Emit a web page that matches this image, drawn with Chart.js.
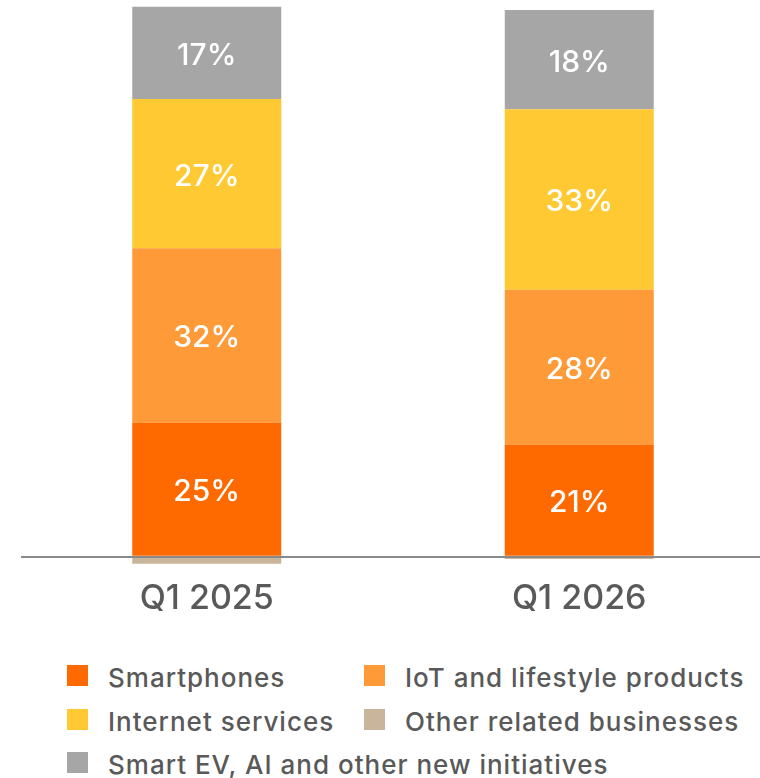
<!DOCTYPE html>
<html>
<head>
<meta charset="utf-8">
<script src="https://cdn.jsdelivr.net/npm/chart.js@4/dist/chart.umd.min.js"></script>
<style>
  html, body { margin: 0; padding: 0; background: #fff; overflow: hidden; }
  body { width: 760px; height: 778px; position: relative; }
  #chart { position: absolute; left: 0; top: 0; }
  .item { position: absolute; font-family: Inter, sans-serif; font-size: 26px; font-weight: 500; color: #595959; white-space: nowrap; letter-spacing: 1px; }
  .box { position: absolute; width: 21px; height: 21px; }
</style>
</head>
<body>
<canvas id="chart" width="766" height="630"></canvas>
<div id="legend"></div>
<script>
// datos (porcentaje de ingresos)
const categories = ['Q1 2025', 'Q1 2026'];
const smartphones = [24.6, 20.6];
const iot = [32.0, 28.4];
const internet = [27.4, 33.1];
const other = [-1.3, -0.4];
const smartEv = [16.9, 18.2];

const seriesNames = ['Smartphones', 'IoT and lifestyle products', 'Internet services', 'Other related businesses', 'Smart EV, AI and other new initiatives'];
const seriesColors = ['#FF6A00', '#FF9A38', '#FFC933', '#C8B59C', '#A6A6A6'];
const seriesData = [smartphones, iot, internet, other, smartEv];

// etiquetas blancas en el centro de cada segmento
const centerLabels = {
  id: 'centerLabels',
  afterDatasetsDraw(chart) {
    const ctx = chart.ctx;
    ctx.save();
    ctx.fillStyle = '#fff';
    ctx.font = '500 30px Inter, sans-serif';
    ctx.textAlign = 'center';
    ctx.textBaseline = 'middle';
    chart.data.datasets.forEach((ds, i) => {
      if (ds.data.some(v => v < 0)) return;
      chart.getDatasetMeta(i).data.forEach((bar, j) => {
        const y = (bar.y + bar.base) / 2 + 3;
        ctx.fillText(Math.round(ds.data[j]) + '%', bar.x, y);
      });
    });
    ctx.restore();
  }
};

const ctx = document.getElementById('chart').getContext('2d');
new Chart(ctx, {
  type: 'bar',
  data: {
    labels: categories,
    datasets: seriesNames.map((name, i) => ({
      label: name,
      data: seriesData[i],
      backgroundColor: seriesColors[i],
      borderWidth: 0,
      categoryPercentage: 0.4,
      barPercentage: 1
    }))
  },
  options: {
    responsive: false,
    animation: false,
    layout: { padding: { left: 20.5, right: 0.5, top: 0, bottom: 0 } },
    plugins: { legend: { display: false }, tooltip: { enabled: false } },
    scales: {
      x: {
        stacked: true,
        grid: { display: false, drawTicks: false },
        border: { display: false },
        ticks: { color: '#595959', font: { family: 'Inter, sans-serif', size: 34, weight: 500 }, padding: 10 },
        afterFit: s => { s.height = 62; }
      },
      y: {
        stacked: true,
        min: -2.07,
        max: 102.15,
        display: true,
        ticks: { display: false },
        border: { display: false },
        afterBuildTicks: s => { s.ticks = [{ value: 0 }]; },
        afterFit: s => { s.width = 0; },
        grid: { color: '#8a8a8a', lineWidth: 2, drawTicks: false, z: 1 }
      }
    }
  },
  plugins: [centerLabels]
});

// leyenda en dos columnas
const legendPos = [[67, 665], [364, 665], [67, 709], [364, 709], [67, 752]];
const legend = document.getElementById('legend');
seriesNames.forEach((name, i) => {
  const [x, y] = legendPos[i];
  const box = document.createElement('div');
  box.className = 'box';
  box.style.left = x + 'px';
  box.style.top = y + 'px';
  box.style.background = seriesColors[i];
  legend.appendChild(box);
  const t = document.createElement('div');
  t.className = 'item';
  t.textContent = name;
  t.style.left = (x + 41) + 'px';
  t.style.top = (y - 2) + 'px';
  t.style.lineHeight = '30px';
  legend.appendChild(t);
});
</script>
</body>
</html>
